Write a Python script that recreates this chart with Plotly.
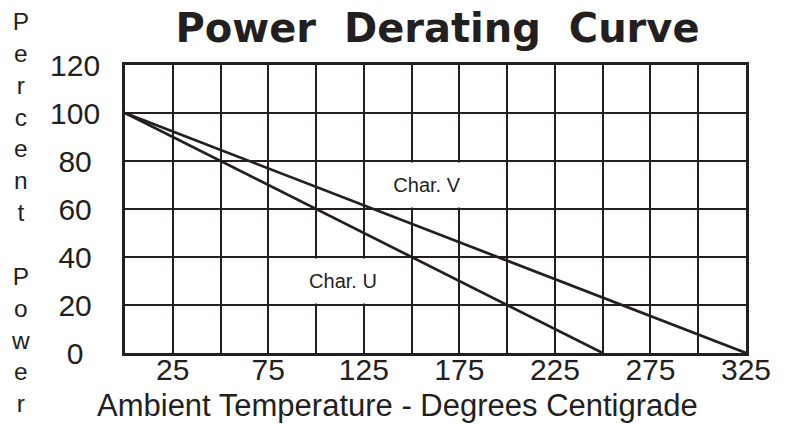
import plotly.graph_objects as go

# ---- data ----
temp_u = [0, 250]
power_u = [100, 0]
temp_v = [0, 325]
power_v = [100, 0]
x_tick_vals = [25, 75, 125, 175, 225, 275, 325]
x_tick_text = ["25", "75", "125", "175", "225", "275", "325"]
y_tick_vals = [0, 20, 40, 60, 80, 100, 120]
y_tick_text = ["0\u2007", "20\u2008", "40\u2008", "60\u2008", "80\u2008", "100", "120"]
label_u = ("Char. U", 114, 30)
label_v = ("Char. V", 158, 70)

INK = "#231f20"
FONT = "Liberation Sans, Arial, sans-serif"

fig = go.Figure()
fig.add_trace(go.Scatter(x=temp_u, y=power_u, mode="lines",
                         line=dict(color=INK, width=2.7), showlegend=False, hoverinfo="skip"))
fig.add_trace(go.Scatter(x=temp_v, y=power_v, mode="lines",
                         line=dict(color=INK, width=2.7), showlegend=False, hoverinfo="skip"))

for txt, xv, yv in (label_u, label_v):
    fig.add_annotation(x=xv, y=yv, xref="x", yref="y", text=txt, showarrow=False,
                       font=dict(family=FONT, size=20, color=INK),
                       bgcolor="white", width=78, height=44, borderpad=0)

# stacked y-axis title
ytitle = "<br>".join(list("Percent")) + "<br> <br>" + "<br>".join(list("Power"))
fig.add_annotation(x=-0.169, y=0.487, xref="paper", yref="paper", text=ytitle,
                   showarrow=False, xanchor="center", yanchor="middle", align="center",
                   font=dict(family=FONT, size=24.5, color=INK))

# x-axis title
fig.add_annotation(x=-0.048, y=-0.182, xref="paper", yref="paper",
                   text="Ambient Temperature - Degrees Centigrade",
                   showarrow=False, xanchor="left", yanchor="middle",
                   font=dict(family=FONT, size=31, color=INK))

SP = "\u00a0\u00a0"
fig.update_layout(
    width=789, height=424,
    margin=dict(l=125, r=43, t=65, b=71, autoexpand=False),
    paper_bgcolor="white", plot_bgcolor="white",
    title=dict(text="<b>Power" + SP + "Derating" + SP + "Curve</b>",
               x=0.5545, xanchor="center", y=0.934, yanchor="middle",
               font=dict(family="DejaVu Sans, sans-serif", size=40, color=INK)),
    xaxis=dict(range=[0, 325], tickvals=x_tick_vals, ticktext=x_tick_text,
               showgrid=True, gridcolor=INK, gridwidth=2,
               minor=dict(tick0=0, dtick=25, showgrid=True, gridcolor=INK, gridwidth=2),
               showline=True, linecolor=INK, linewidth=2.7, mirror=True,
               ticks="", zeroline=False, fixedrange=True, automargin=False,
               ticklabelstandoff=-12,
               tickfont=dict(family=FONT, size=30, color=INK)),
    yaxis=dict(range=[0, 120], tickvals=y_tick_vals, ticktext=y_tick_text,
               showgrid=True, gridcolor=INK, gridwidth=2,
               showline=True, linecolor=INK, linewidth=2.7, mirror=True,
               ticks="", zeroline=False, fixedrange=True, ticklabelstandoff=16,
               automargin=False,
               tickfont=dict(family=FONT, size=30, color=INK)),
)

fig.write_html("out.html", config={"displayModeBar": False},
               post_script="document.body.style.margin='0';document.body.style.padding='0';")
